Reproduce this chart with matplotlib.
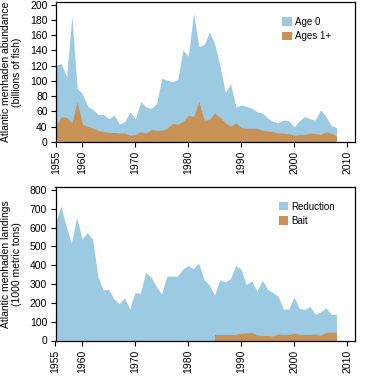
import matplotlib
matplotlib.use('Agg')
import matplotlib.pyplot as plt
import numpy as np

plt.rcParams['font.family'] = ['Liberation Sans', 'DejaVu Sans']

# abundance (billions of fish)
years = np.arange(1955, 2009)
age0 = [112, 114, 95, 183, 78, 70, 52, 47, 40, 40,
        34, 39, 26, 30, 44, 34, 59, 51, 49, 56,
        93, 90, 88, 91, 134, 125, 188, 139, 142, 160,
        143, 110, 72, 85, 51, 54, 52, 49, 44, 42,
        35, 30, 28, 32, 31, 22, 31, 37, 34, 32,
        47, 37, 24, 21]
ages1 = [24, 37, 36, 28, 59, 26, 23, 20, 17, 15,
         14, 14, 13, 13, 10, 11, 15, 13, 18, 17,
         17, 20, 27, 26, 30, 39, 37, 59, 32, 33,
         42, 36, 28, 23, 28, 21, 20, 20, 20, 17,
         16, 15, 13, 13, 12, 10, 11, 11, 13, 12,
         11, 15, 13, 9]

# landings ('000 metric tons)
reduction = [622, 716, 610, 516, 655, 540, 574, 538, 340, 268,
             272, 222, 196, 228, 167, 256, 250, 363, 338, 288,
             247, 342, 342, 342, 380, 398, 382, 412, 325, 295,
             242, 322, 311, 329, 398, 380, 297, 318, 262, 320,
             272, 255, 235, 167, 167, 231, 170, 165, 181, 139,
             151, 174, 139, 139]
bait_years = np.arange(1985, 2009)
bait = [32, 32, 32, 32, 33, 39, 40, 44, 30, 27, 27, 23,
        35, 32, 32, 38, 33, 32, 32, 35, 27, 44, 44, 43]

xticks = [1955, 1960, 1970, 1980, 1990, 2000, 2010]
top_ytick_labels = ['0', '40', '60', '80', '100', '120', '140', '160', '180', '200']
bot_yticks = [0, 100, 200, 300, 400, 500, 600, 700, 800]

blue = '#9ccae2'
tan = '#c89256'

fig = plt.figure(figsize=(3.66, 3.80), dpi=100)
ax1 = fig.add_axes([56/366, 1 - 142/380, 299/366, 140/380])
ax2 = fig.add_axes([55.5/366, 1 - 340.5/380, 299.5/366, 153.5/380])

ax1.fill_between(years, 0, age0, color=blue, lw=0, label='Age 0')
ax1.fill_between(years, 0, ages1, color=tan, lw=0, label='Ages 1+')
ax1.set_ylim(0, 204)
ax1.set_yticks(np.linspace(0, 200, len(top_ytick_labels)))
ax1.set_yticklabels(top_ytick_labels)
ax1.set_ylabel('Atlantic menhaden abundance\n(billions of fish)', fontsize=7.5, linespacing=1.1)
ax1.yaxis.set_label_coords(-0.114, 0.5)
ax1.legend(loc='upper left', bbox_to_anchor=(0.757, 0.895), frameon=False, fontsize=7,
           borderpad=0, borderaxespad=0, handlelength=0.95, handleheight=0.95,
           handletextpad=0.35, labelspacing=0.45)

ax2.fill_between(years, 0, reduction, color=blue, lw=0, label='Reduction')
ax2.fill_between(bait_years, 0, bait, color=tan, lw=0, label='Bait')
ax2.set_ylim(0, 816)
ax2.set_yticks(bot_yticks)
ax2.set_ylabel('Atlantic menhaden landings\n(1000 metric tons)', fontsize=7.5, linespacing=1.1)
ax2.yaxis.set_label_coords(-0.113, 0.5)
ax2.legend(loc='upper left', bbox_to_anchor=(0.745, 0.905), frameon=False, fontsize=7,
           borderpad=0, borderaxespad=0, handlelength=0.95, handleheight=0.95,
           handletextpad=0.35, labelspacing=0.45)

for ax in (ax1, ax2):
    ax.set_xlim(1955, 2011.5)
    ax.set_xticks(xticks)
    ax.set_xticklabels([str(x) for x in xticks], rotation=90)
    ax.tick_params(axis='x', length=3.5, width=0.8, pad=3, labelsize=7.5)
    ax.tick_params(axis='y', length=3.5, width=0.8, pad=2.5, labelsize=7.5)
    for s in ax.spines.values():
        s.set_linewidth(0.9)
        s.set_zorder(5)

fig.savefig('out.png', dpi=100)
